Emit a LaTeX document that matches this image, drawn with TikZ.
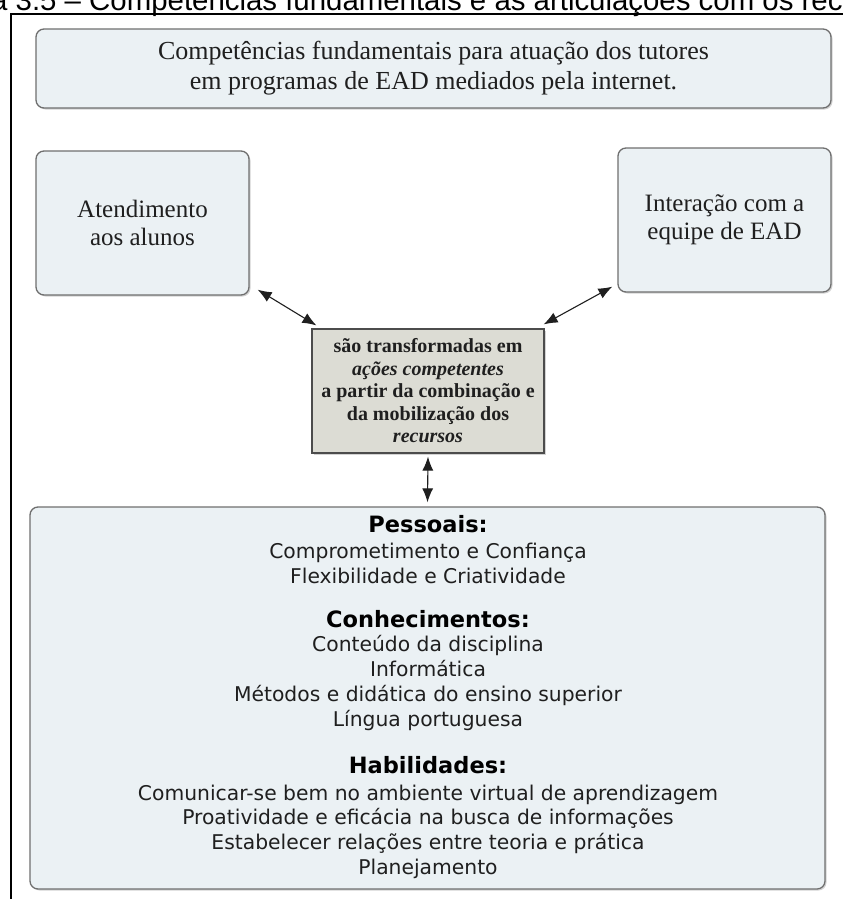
\documentclass[tikz,border=0pt]{standalone}
\usepackage{fontspec}
\setmainfont{Liberation Serif}
\newfontfamily\capfont{Liberation Sans}
\newfontfamily\listfont{DejaVu Sans}
\usetikzlibrary{arrows.meta,positioning,shadows,calc}
\definecolor{ink}{HTML}{1F1F1F}
\definecolor{edge}{HTML}{6F6F6F}
\definecolor{pale}{HTML}{EBF1F4}
\definecolor{stone}{HTML}{DCDCD4}

\begin{document}
\begin{tikzpicture}[x=1pt,y=-1pt,
  box/.style={rounded corners=8pt,draw=edge,line width=1.3pt,fill=pale,align=center,text=ink,inner sep=0pt,
    drop shadow={shadow xshift=1.5pt,shadow yshift=-1.5pt,opacity=.35}},
  mid/.style={draw=ink!80,line width=1.2pt,fill=stone,align=center,text=ink,inner sep=0pt,
    drop shadow={shadow xshift=1.5pt,shadow yshift=-1.5pt,opacity=.35}},
  item/.style={anchor=base,inner sep=0pt,text=ink,font=\listfont\fontsize{20.3}{24}\selectfont},
  head/.style={anchor=base,inner sep=0pt,text=black,font=\listfont\bfseries\fontsize{22.5}{24}\selectfont},
  arr/.style={{Latex[length=14pt,width=11pt]}-{Latex[length=14pt,width=11pt]},draw=ink,line width=1.1pt}]
  \useasboundingbox (0,0) rectangle (843,899);
  % caption, cut by the page
  \node[anchor=base west,inner sep=0pt,text=black,font=\capfont\fontsize{29.4}{30}\selectfont] (cap) at (-9,11)
    {a 3.5 – Competências fundamentais e as articulações com os rec};
  \draw[line width=1.5pt] (11,899) -- (11,14) -- (843,14);
  % boxes
  \node[box,minimum width=795pt,minimum height=79pt,font=\fontsize{26}{30}\selectfont] (titulo) at (433.5,68.5)
    {Competências fundamentais para atuação dos tutores\\em programas de EAD mediados pela internet.};
  \node[box,minimum width=213pt,minimum height=144pt,font=\fontsize{25}{28}\selectfont] (atend) at (142.5,223)
    {Atendimento\\aos alunos};
  \node[box,minimum width=213pt,minimum height=144pt,font=\fontsize{25}{28}\selectfont] (interac) at (724.5,220)
    {Interação com a\\equipe de EAD};
  \node[mid,minimum width=232pt,minimum height=124pt,font=\bfseries\fontsize{20}{22.5}\selectfont] (acoes) at (428,391)
    {são transformadas em\\\textit{ações competentes}\\a partir da combinação e\\da mobilização dos\\\textit{recursos}};
  \node[box,minimum width=795pt,minimum height=382pt] (recursos) at (427.5,698) {};
  % resources
  \node[head] (pess) at (428,532) {Pessoais:};
  \foreach \y/\t in {558/Comprometimento e Confiança,583/Flexibilidade e Criatividade}
    \node[item] (p\y) at (428,\y) {\t};
  \node[head] (conh) at (428,627) {Conhecimentos:};
  \foreach \y/\t in {651/Conteúdo da disciplina,676/Informática,701/Métodos e didática do ensino superior,726/Língua portuguesa}
    \node[item] (c\y) at (428,\y) {\t};
  \node[head] (habil) at (428,773) {Habilidades:};
  \foreach \y/\t in {800/Comunicar-se bem no ambiente virtual de aprendizagem,824/Proatividade e eficácia na busca de informações,849/Estabelecer relações entre teoria e prática,874/Planejamento}
    \node[item] (h\y) at (428,\y) {\t};
  % arrows
  \draw[arr] ([shift={(8,-6)}]atend.south east) -- ([shift={(5,-3)}]acoes.north west);
  \draw[arr] ([shift={(-1,-4)}]acoes.north east) -- ([shift={(-5,-6)}]interac.south west);
  \draw[arr] ([shift={(0,3)}]acoes.south) -- ([shift={(0,-4)}]recursos.north);
\end{tikzpicture}
\end{document}
